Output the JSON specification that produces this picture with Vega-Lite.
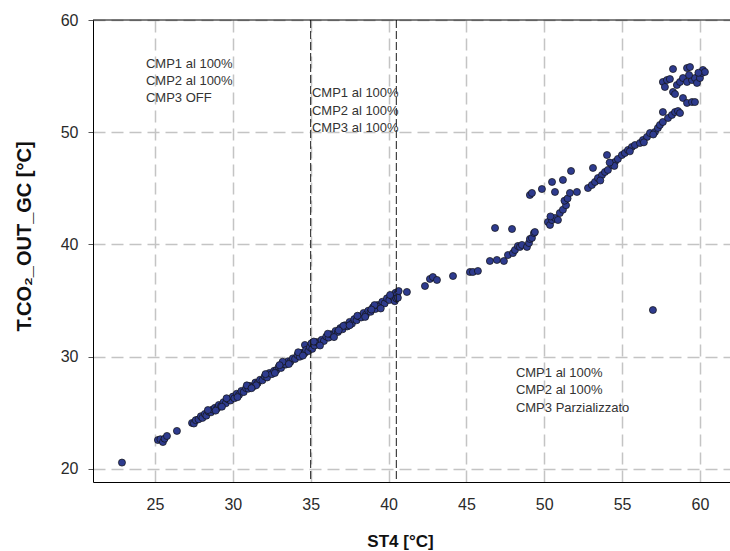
{
  "$schema": "https://vega.github.io/schema/vega-lite/v6.json",
  "width": 637,
  "height": 462,
  "autosize": {"type": "none"},
  "padding": {"left": 93, "top": 20, "right": 0, "bottom": 69},
  "background": "white",
  "config": {
    "view": {"stroke": null},
    "font": "Liberation Sans"
  },
  "datasets": {
    "pts": [
      {"st4": 22.88, "t": 20.57}, {"st4": 25.19, "t": 22.58}, {"st4": 25.35, "t": 22.65}, {"st4": 25.51, "t": 22.4}, {"st4": 25.62, "t": 22.7}, {"st4": 25.77, "t": 22.94}, {"st4": 26.41, "t": 23.39},
      {"st4": 27.38, "t": 24.1}, {"st4": 27.5, "t": 24.05}, {"st4": 27.62, "t": 24.35}, {"st4": 27.8, "t": 24.42}, {"st4": 27.95, "t": 24.7}, {"st4": 28.05, "t": 24.55},
      {"st4": 28.2, "t": 24.9}, {"st4": 28.3, "t": 24.75}, {"st4": 28.45, "t": 25.1}, {"st4": 28.6, "t": 25.05}, {"st4": 28.7, "t": 25.3}, {"st4": 28.85, "t": 25.45},
      {"st4": 29.0, "t": 25.4}, {"st4": 29.1, "t": 25.7}, {"st4": 29.25, "t": 25.6}, {"st4": 29.4, "t": 25.95}, {"st4": 29.55, "t": 25.85}, {"st4": 29.7, "t": 26.2},
      {"st4": 29.85, "t": 26.1}, {"st4": 30.0, "t": 26.45}, {"st4": 30.1, "t": 26.3}, {"st4": 30.25, "t": 26.7}, {"st4": 30.4, "t": 26.6}, {"st4": 30.55, "t": 26.95},
      {"st4": 30.7, "t": 26.85}, {"st4": 30.85, "t": 27.2}, {"st4": 31.0, "t": 27.15}, {"st4": 31.1, "t": 27.4}, {"st4": 31.3, "t": 27.35}, {"st4": 31.45, "t": 27.7},
      {"st4": 31.6, "t": 27.65}, {"st4": 31.75, "t": 27.95}, {"st4": 31.9, "t": 27.9}, {"st4": 32.05, "t": 28.25}, {"st4": 32.2, "t": 28.15}, {"st4": 32.35, "t": 28.55},
      {"st4": 32.5, "t": 28.45}, {"st4": 32.65, "t": 28.75}, {"st4": 32.8, "t": 28.8}, {"st4": 32.95, "t": 29.1}, {"st4": 33.1, "t": 29.0}, {"st4": 33.25, "t": 29.35},
      {"st4": 33.4, "t": 29.3}, {"st4": 33.55, "t": 29.6}, {"st4": 33.7, "t": 29.55}, {"st4": 33.85, "t": 29.85}, {"st4": 34.0, "t": 29.8}, {"st4": 34.15, "t": 30.15},
      {"st4": 34.3, "t": 30.0}, {"st4": 34.45, "t": 30.35}, {"st4": 34.6, "t": 30.3}, {"st4": 34.63, "t": 31.05}, {"st4": 34.7, "t": 30.6}, {"st4": 34.85, "t": 30.5},
      {"st4": 34.95, "t": 30.85}, {"st4": 35.05, "t": 31.2}, {"st4": 35.1, "t": 30.7}, {"st4": 35.25, "t": 31.0}, {"st4": 35.4, "t": 31.3}, {"st4": 35.55, "t": 31.2},
      {"st4": 35.7, "t": 31.5}, {"st4": 35.85, "t": 31.4}, {"st4": 36.0, "t": 31.8}, {"st4": 36.15, "t": 31.7}, {"st4": 36.3, "t": 32.0}, {"st4": 36.45, "t": 31.95},
      {"st4": 36.6, "t": 32.3}, {"st4": 36.75, "t": 32.2}, {"st4": 36.9, "t": 32.55}, {"st4": 37.05, "t": 32.45}, {"st4": 37.2, "t": 32.8}, {"st4": 37.35, "t": 32.7},
      {"st4": 37.5, "t": 33.1}, {"st4": 37.65, "t": 32.95}, {"st4": 37.8, "t": 33.35}, {"st4": 37.95, "t": 33.25}, {"st4": 38.1, "t": 33.6}, {"st4": 38.25, "t": 33.5},
      {"st4": 38.4, "t": 33.9}, {"st4": 38.55, "t": 33.75}, {"st4": 38.7, "t": 34.1}, {"st4": 38.85, "t": 34.0}, {"st4": 39.0, "t": 34.4}, {"st4": 39.15, "t": 34.25},
      {"st4": 39.3, "t": 34.6}, {"st4": 39.45, "t": 34.5}, {"st4": 39.6, "t": 34.9}, {"st4": 39.75, "t": 34.75}, {"st4": 39.9, "t": 35.2}, {"st4": 40.05, "t": 35.05},
      {"st4": 40.2, "t": 35.45}, {"st4": 40.3, "t": 35.3}, {"st4": 40.45, "t": 35.7}, {"st4": 40.55, "t": 35.55}, {"st4": 40.65, "t": 35.85}, {"st4": 40.4, "t": 34.95},
      {"st4": 40.5, "t": 35.2}, {"st4": 41.18, "t": 35.77},
      {"st4": 28.4, "t": 25.25}, {"st4": 28.9, "t": 25.2}, {"st4": 29.6, "t": 26.3}, {"st4": 30.3, "t": 26.4}, {"st4": 30.9, "t": 27.45}, {"st4": 31.5, "t": 27.45},
      {"st4": 32.1, "t": 28.45}, {"st4": 32.7, "t": 28.55}, {"st4": 33.2, "t": 29.55}, {"st4": 33.6, "t": 29.35}, {"st4": 34.2, "t": 30.4}, {"st4": 34.5, "t": 30.1},
      {"st4": 35.2, "t": 31.35}, {"st4": 35.6, "t": 31.0}, {"st4": 36.1, "t": 32.05}, {"st4": 36.5, "t": 31.75}, {"st4": 37.1, "t": 32.75}, {"st4": 37.5, "t": 32.8},
      {"st4": 38.0, "t": 33.65}, {"st4": 38.5, "t": 33.55}, {"st4": 39.1, "t": 34.6}, {"st4": 39.5, "t": 34.3}, {"st4": 40.1, "t": 35.5}, {"st4": 40.6, "t": 35.25},
      {"st4": 29.3, "t": 25.55}, {"st4": 31.2, "t": 27.2}, {"st4": 33.0, "t": 29.25}, {"st4": 36.8, "t": 32.35}, {"st4": 38.9, "t": 34.2},
      {"st4": 42.34, "t": 36.3}, {"st4": 42.66, "t": 36.93}, {"st4": 42.85, "t": 37.1}, {"st4": 43.11, "t": 36.84}, {"st4": 44.14, "t": 37.19},
      {"st4": 45.23, "t": 37.55}, {"st4": 45.42, "t": 37.55}, {"st4": 45.74, "t": 37.64}, {"st4": 46.51, "t": 38.53}, {"st4": 46.96, "t": 38.62}, {"st4": 47.41, "t": 38.53},
      {"st4": 46.84, "t": 41.47}, {"st4": 47.93, "t": 41.38},
      {"st4": 47.67, "t": 39.06}, {"st4": 47.99, "t": 39.24}, {"st4": 48.12, "t": 39.51}, {"st4": 48.31, "t": 39.87}, {"st4": 48.44, "t": 39.78}, {"st4": 48.57, "t": 39.96},
      {"st4": 48.89, "t": 39.78}, {"st4": 49.02, "t": 40.13}, {"st4": 49.08, "t": 40.49}, {"st4": 49.21, "t": 40.58}, {"st4": 49.34, "t": 41.02}, {"st4": 49.4, "t": 41.11},
      {"st4": 49.08, "t": 44.41}, {"st4": 49.21, "t": 44.59}, {"st4": 49.85, "t": 44.94}, {"st4": 50.5, "t": 45.57}, {"st4": 50.69, "t": 44.68},
      {"st4": 50.24, "t": 42.0}, {"st4": 50.37, "t": 41.74}, {"st4": 50.5, "t": 42.18}, {"st4": 50.69, "t": 42.36}, {"st4": 50.88, "t": 42.18}, {"st4": 50.4, "t": 42.5},
      {"st4": 51.0, "t": 42.8}, {"st4": 51.2, "t": 43.1}, {"st4": 51.4, "t": 43.5}, {"st4": 51.3, "t": 43.9}, {"st4": 51.5, "t": 44.1},
      {"st4": 51.2, "t": 45.75}, {"st4": 51.72, "t": 46.55}, {"st4": 53.13, "t": 46.82}, {"st4": 54.03, "t": 47.97},
      {"st4": 51.65, "t": 44.59}, {"st4": 52.1, "t": 44.68}, {"st4": 52.81, "t": 45.03}, {"st4": 53.06, "t": 45.3}, {"st4": 53.26, "t": 45.57}, {"st4": 53.45, "t": 45.92},
      {"st4": 53.71, "t": 46.19}, {"st4": 53.9, "t": 46.46}, {"st4": 54.09, "t": 46.64}, {"st4": 54.35, "t": 47.08}, {"st4": 54.54, "t": 47.35}, {"st4": 54.73, "t": 47.62},
      {"st4": 54.99, "t": 47.97}, {"st4": 55.18, "t": 48.15}, {"st4": 55.38, "t": 48.42}, {"st4": 55.63, "t": 48.69}, {"st4": 55.83, "t": 48.86}, {"st4": 56.15, "t": 49.04},
      {"st4": 56.34, "t": 49.31}, {"st4": 56.6, "t": 49.58}, {"st4": 56.79, "t": 49.93}, {"st4": 57.11, "t": 50.02}, {"st4": 57.3, "t": 50.38}, {"st4": 57.43, "t": 50.65},
      {"st4": 57.62, "t": 50.91}, {"st4": 57.95, "t": 51.27}, {"st4": 58.2, "t": 51.54}, {"st4": 58.4, "t": 51.8}, {"st4": 58.59, "t": 51.89}, {"st4": 58.72, "t": 51.71},
      {"st4": 53.6, "t": 45.7}, {"st4": 54.5, "t": 47.0}, {"st4": 55.5, "t": 48.3}, {"st4": 56.4, "t": 49.1}, {"st4": 57.0, "t": 49.8}, {"st4": 54.2, "t": 47.3},
      {"st4": 57.62, "t": 51.8}, {"st4": 58.91, "t": 53.05}, {"st4": 59.17, "t": 52.61}, {"st4": 59.49, "t": 52.69}, {"st4": 59.68, "t": 52.69},
      {"st4": 58.27, "t": 55.63}, {"st4": 59.17, "t": 55.72}, {"st4": 59.36, "t": 55.81}, {"st4": 57.62, "t": 54.48}, {"st4": 57.88, "t": 54.65}, {"st4": 58.07, "t": 54.74},
      {"st4": 57.75, "t": 54.03}, {"st4": 58.27, "t": 53.59}, {"st4": 58.52, "t": 54.21}, {"st4": 58.72, "t": 54.48}, {"st4": 58.91, "t": 54.83}, {"st4": 59.17, "t": 54.48},
      {"st4": 59.49, "t": 54.65}, {"st4": 59.68, "t": 54.83}, {"st4": 59.81, "t": 54.39}, {"st4": 60.0, "t": 54.83}, {"st4": 60.13, "t": 55.28}, {"st4": 60.19, "t": 55.55},
      {"st4": 60.32, "t": 55.37}, {"st4": 59.3, "t": 55.1}, {"st4": 59.9, "t": 55.3}, {"st4": 58.4, "t": 53.4},
      {"st4": 56.98, "t": 34.16}
    ],
    "notes": [
      {"x": 24.42, "y": 55.72, "label": "CMP1 al 100%"},
      {"x": 24.42, "y": 54.21, "label": "CMP2 al 100%"},
      {"x": 24.42, "y": 52.69, "label": "CMP3 OFF"},
      {"x": 35.08, "y": 53.14, "label": "CMP1 al 100%"},
      {"x": 35.08, "y": 51.54, "label": "CMP2 al 100%"},
      {"x": 35.08, "y": 50.02, "label": "CMP3 al 100%"},
      {"x": 48.18, "y": 28.2, "label": "CMP1 al 100%"},
      {"x": 48.18, "y": 26.68, "label": "CMP2 al 100%"},
      {"x": 48.18, "y": 25.08, "label": "CMP3 Parzializzato"}
    ],
    "vlines": [{"v": 35.0}, {"v": 40.5}]
  },
  "layer": [
    {
      "data": {"name": "pts"},
      "mark": {"type": "point", "filled": true, "shape": "circle", "size": 50, "color": "#2E3B8E", "stroke": "#111111", "strokeWidth": 0.7, "opacity": 1},
      "encoding": {
        "x": {
          "field": "st4", "type": "quantitative",
          "scale": {"domain": [21.02, 61.93], "nice": false, "zero": false},
          "axis": {
            "values": [25, 30, 35, 40, 45, 50, 55, 60],
            "title": "ST4 [°C]",
            "titleFont": "Liberation Sans", "titleFontSize": 17, "titleFontWeight": "bold", "titleColor": "#111111",
            "titleX": 307, "titleY": 64, "titleBaseline": "alphabetic", "titleAlign": "center",
            "labelFont": "Liberation Sans", "labelFontSize": 16, "labelColor": "#2a2a2a", "labelPadding": 14,
            "ticks": false,
            "domainColor": "#000000", "domainWidth": 1,
            "grid": true, "gridColor": "#c4c4c4", "gridDash": [12, 6], "gridWidth": 1.5
          }
        },
        "y": {
          "field": "t", "type": "quantitative",
          "scale": {"domain": [18.84, 60], "nice": false, "zero": false},
          "axis": {
            "values": [20, 30, 40, 50, 60],
            "title": "T.CO₂_OUT_GC [°C]",
            "titleFont": "Liberation Sans", "titleFontSize": 20, "titleFontWeight": "bold", "titleColor": "#111111",
            "titleX": -69, "titleY": 216, "titleAngle": -90, "titleAlign": "center", "titleBaseline": "middle",
            "labelFont": "Liberation Sans", "labelFontSize": 16, "labelColor": "#2a2a2a", "labelPadding": 10,
            "ticks": true, "tickSize": 5, "tickColor": "#555555",
            "domainColor": "#000000", "domainWidth": 1,
            "grid": true, "gridColor": "#c4c4c4", "gridDash": [12, 6], "gridWidth": 1.5
          }
        }
      }
    },
    {
      "data": {"name": "vlines"},
      "mark": {"type": "rule", "color": "#1a1a1a", "strokeWidth": 1, "strokeDash": [8, 3]},
      "encoding": {"x": {"field": "v", "type": "quantitative"}}
    },
    {
      "data": {"name": "notes"},
      "mark": {"type": "text", "align": "left", "baseline": "alphabetic", "font": "Liberation Sans", "fontSize": 13, "color": "#333333"},
      "encoding": {
        "x": {"field": "x", "type": "quantitative"},
        "y": {"field": "y", "type": "quantitative"},
        "text": {"field": "label"}
      }
    },
    {
      "data": {"values": [{"top": 60}]},
      "mark": {"type": "rule", "color": "#000000", "strokeWidth": 1},
      "encoding": {"y": {"field": "top", "type": "quantitative"}}
    }
  ]
}
